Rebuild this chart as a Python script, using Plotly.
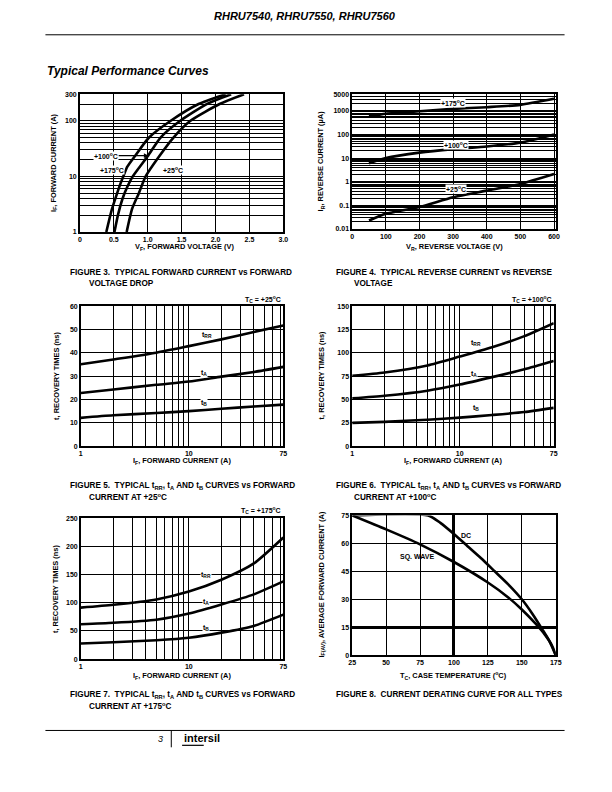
import math
import plotly.graph_objects as go

# Page is 612x792; the browser adds an 8px body margin, so the figure is 596x776
W, H = 612, 792
M = 8
FW, FH = W - 2 * M, H - 2 * M
FONT = "Liberation Sans, Arial, sans-serif"

# ---------------- Figure 3 data: forward current vs forward voltage ----------------
f3_v_175 = [0.39, 0.47, 0.55, 0.60, 0.64, 0.70, 0.81, 1.02, 1.34, 1.75, 2.15]
f3_i_175 = [1, 2.5, 5, 7.5, 10, 15, 23, 50, 100, 200, 300]
f3_v_100 = [0.51, 0.565, 0.63, 0.70, 0.78, 1.00, 1.19, 1.48, 1.87, 2.23]
f3_i_100 = [1, 2.1, 4, 6.5, 10, 23, 50, 100, 200, 300]
f3_v_25 = [0.69, 0.77, 0.87, 0.97, 1.17, 1.38, 1.63, 2.06, 2.42]
f3_i_25 = [1, 2.6, 5, 10, 23, 50, 100, 200, 300]
f3_xticks = [0, 0.5, 1.0, 1.5, 2.0, 2.5, 3.0]
f3_xticktext = ["0", "0.5", "1.0", "1.5", "2.0", "2.5", "3.0"]
f3_yticks = [1, 10, 100, 300]
f3_yticktext = ["1", "10", "100", "300"]
f3_yminor = [2, 3, 4, 5, 6, 7, 8, 9, 20, 30, 40, 50, 60, 70, 80, 90, 200]

# ---------------- Figure 4 data: reverse current vs reverse voltage ----------------
f4_vr = [50, 100, 200, 300, 400, 500, 600]
f4_ir_175 = [580, 750, 950, 1200, 1420, 1780, 3200]
f4_ir_100 = [6, 10, 17, 24, 31, 45, 100]
f4_ir_25 = [0.023, 0.044, 0.085, 0.22, 0.42, 0.8, 2.1]
f4_xticks = [0, 100, 200, 300, 400, 500, 600]
f4_yticks = [0.01, 0.1, 1, 10, 100, 1000, 5000]
f4_yticktext = ["0.01", "0.1", "1", "10", "100", "1000", "5000"]
f4_yminor = [m * 10 ** e for e in range(-2, 4) for m in range(2, 10) if m * 10 ** e < 5000]

# ---------------- Figures 5-7: recovery times vs forward current ----------------
rec_if = [1, 2, 5, 10, 20, 40, 75]
f5_trr = [35.1, 37.2, 40.1, 42.9, 45.8, 49.0, 51.8]
f5_ta = [22.8, 24.3, 26.3, 27.7, 29.8, 31.8, 34.0]
f5_tb = [12.1, 13.2, 14.2, 15.0, 16.0, 17.0, 17.8]
f6_trr = [75.4, 79.0, 86.5, 96.0, 106.0, 118.0, 132.0]
f6_ta = [51.2, 54.0, 59.4, 66.0, 74.0, 82.5, 91.4]
f6_tb = [24.9, 26.0, 28.3, 30.5, 33.3, 36.5, 41.0]
f7_trr = [91.4, 96.5, 106.0, 120.0, 141.0, 170.0, 216.0]
f7_ta = [62.0, 64.5, 70.0, 81.0, 97.0, 115.0, 138.0]
f7_tb = [27.7, 30.0, 33.5, 38.0, 47.0, 59.0, 79.0]
rec_xticks = [1, 10, 75]
rec_xticktext = ["1", "10", "75"]
rec_xminor = [2, 3, 4, 5, 6, 7, 8, 9, 20, 30, 40, 50, 60, 70]

# ---------------- Figure 8: current derating ----------------
f8_t_dc = [25, 81, 90, 100, 110, 120, 130, 140, 150, 158, 165, 170, 175]
f8_i_dc = [75, 75, 71, 65, 58.5, 52, 45, 38, 30, 22, 14, 8, 0]
f8_t_sq = [25, 50, 75, 100, 125, 140, 150, 160, 167, 172, 175]
f8_i_sq = [75, 67.5, 59.5, 50, 39, 31, 24.5, 17, 11, 5.5, 0]
f8_xticks = [25, 50, 75, 100, 125, 150, 175]
f8_yticks = [0, 15, 30, 45, 60, 75]


def PX(x):
    return (x - M) / FW


def PY(y):
    return 1 - (y - M) / FH


def dom_x(a, b):
    return [PX(a), PX(b)]


def dom_y(top, bottom):
    return [PY(bottom), PY(top)]


def base_axis(**kw):
    d = dict(showline=True, linecolor="black", linewidth=1.5, mirror=True,
             showgrid=True, gridcolor="black", gridwidth=1, ticks="", ticklen=0,
             zeroline=False, fixedrange=True,
             tickfont=dict(family=FONT, size=7, color="black", weight="bold"))
    d.update(kw)
    return d


fig = go.Figure()
LW = 2.6
curve = dict(mode="lines", line=dict(color="black", width=LW, shape="spline", smoothing=0.6),
             showlegend=False, hoverinfo="skip")

for v, i in [(f3_v_175, f3_i_175), (f3_v_100, f3_i_100), (f3_v_25, f3_i_25)]:
    fig.add_trace(go.Scatter(x=v, y=i, xaxis="x", yaxis="y", **curve))
for ir in [f4_ir_175, f4_ir_100, f4_ir_25]:
    fig.add_trace(go.Scatter(x=f4_vr, y=ir, xaxis="x2", yaxis="y2", **curve))
for ax, series in [("3", [f5_trr, f5_ta, f5_tb]), ("4", [f6_trr, f6_ta, f6_tb]), ("5", [f7_trr, f7_ta, f7_tb])]:
    for s in series:
        fig.add_trace(go.Scatter(x=rec_if, y=s, xaxis="x" + ax, yaxis="y" + ax, **curve))
fig.add_trace(go.Scatter(x=f8_t_dc, y=f8_i_dc, xaxis="x6", yaxis="y6", **curve))
fig.add_trace(go.Scatter(x=f8_t_sq, y=f8_i_sq, xaxis="x6", yaxis="y6", **curve))


def minor_grid(vals, w=1):
    return dict(tickvals=vals, showgrid=True, gridcolor="black", gridwidth=w, ticks="")


fig.update_layout(
    width=FW, height=FH, margin=dict(l=0, r=0, t=0, b=0),
    paper_bgcolor="white", plot_bgcolor="white", showlegend=False,
    font=dict(family=FONT, color="black"),
    xaxis=base_axis(domain=dom_x(77, 284), range=[0, 3], tickvals=f3_xticks, ticktext=f3_xticktext, anchor="y"),
    yaxis=base_axis(domain=dom_y(91, 230), type="log", range=[0, math.log10(300)],
                    tickvals=f3_yticks, ticktext=f3_yticktext, minor=minor_grid(f3_yminor), anchor="x"),
    xaxis2=base_axis(domain=dom_x(354, 561), range=[0, 605], tickvals=f4_xticks, anchor="y2"),
    yaxis2=base_axis(domain=dom_y(91, 227), type="log", range=[-2, math.log10(5000)], gridwidth=1.4,
                     tickvals=f4_yticks, ticktext=f4_yticktext, minor=minor_grid(f4_yminor, 1.2), anchor="x2"),
    xaxis3=base_axis(domain=dom_x(78, 284), type="log", range=[0, math.log10(75)],
                     tickvals=rec_xticks, ticktext=rec_xticktext, minor=minor_grid(rec_xminor), anchor="y3"),
    yaxis3=base_axis(domain=dom_y(305, 446), range=[0, 60], dtick=10, anchor="x3"),
    xaxis4=base_axis(domain=dom_x(354, 559), type="log", range=[0, math.log10(75)],
                     tickvals=rec_xticks, ticktext=rec_xticktext, minor=minor_grid(rec_xminor), anchor="y4"),
    yaxis4=base_axis(domain=dom_y(305, 446), range=[0, 150], dtick=25, anchor="x4"),
    xaxis5=base_axis(domain=dom_x(78, 284), type="log", range=[0, math.log10(75)],
                     tickvals=rec_xticks, ticktext=rec_xticktext, minor=minor_grid(rec_xminor), anchor="y5"),
    yaxis5=base_axis(domain=dom_y(519, 661), range=[0, 250], dtick=50, anchor="x5"),
    xaxis6=base_axis(domain=dom_x(354, 561), range=[25, 175], tickvals=f8_xticks,
                     minor=minor_grid([100], 3), anchor="y6"),
    yaxis6=base_axis(domain=dom_y(516, 657), range=[0, 75], tickvals=f8_yticks,
                     minor=minor_grid([15], 3), anchor="x6"),
)

anns = []


def ann(text, x, y, size=7, xanchor="center", yanchor="middle", bold=True, italic=False,
        angle=0, bg=None):
    f = dict(family=FONT, size=size, color="black")
    if bold:
        f["weight"] = "bold"
    if italic:
        f["style"] = "italic"
    d = dict(text=text, x=PX(x), y=PY(y), xref="paper", yref="paper", showarrow=False,
             xanchor=xanchor, yanchor=yanchor, font=f, textangle=angle)
    if bg:
        d.update(bgcolor=bg, borderpad=0)
    anns.append(d)


# Header
ann("RHRU7540, RHRU7550, RHRU7560", 306, 12, size=11, italic=True)
ann("Typical Performance Curves", 42, 68, size=12, xanchor="left", italic=True)

# Axis titles
AT = 7.4
ann("I<sub>F</sub>, FORWARD CURRENT (A)", 50, 160, size=AT, angle=-90)
ann("V<sub>F</sub>, FORWARD VOLTAGE (V)", 183, 245, size=AT)
ann("I<sub>R</sub>, REVERSE CURRENT (µA)", 322, 158, size=AT, angle=-90)
ann("V<sub>R</sub>, REVERSE VOLTAGE (V)", 458, 245, size=AT)
ann("t, RECOVERY TIMES (ns)", 53, 375, size=AT, angle=-90)
ann("I<sub>F</sub>, FORWARD CURRENT (A)", 181, 461, size=AT)
ann("t, RECOVERY TIMES (ns)", 323, 375, size=AT, angle=-90)
ann("I<sub>F</sub>, FORWARD CURRENT (A)", 457, 461, size=AT)
ann("t, RECOVERY TIMES (ns)", 53, 590, size=AT, angle=-90)
ann("I<sub>F</sub>, FORWARD CURRENT (A)", 181, 678, size=AT)
ann("I<sub>F(AV)</sub>, AVERAGE FORWARD CURRENT (A)", 323, 586, size=AT, angle=-90)
ann("T<sub>C</sub>, CASE TEMPERATURE (<sup>o</sup>C)", 457, 678, size=AT)

# Conditions
ann("T<sub>C</sub> = +25<sup>o</sup>C", 284, 298, xanchor="right")
ann("T<sub>C</sub> = +100<sup>o</sup>C", 559, 298, xanchor="right")
ann("T<sub>C</sub> = +175<sup>o</sup>C", 284, 511, xanchor="right")

# Curve labels
ann("+175<sup>o</sup>C", 110, 167, bg="white")
ann("+25<sup>o</sup>C", 172, 167, bg="white")
anns.append(dict(text="+100<sup>o</sup>C", x=PX(147), y=PY(153), xref="paper", yref="paper",
                 showarrow=True, ax=-30, ay=0, arrowhead=2, arrowsize=0.8, arrowwidth=1.2,
                 arrowcolor="black", xanchor="right", bgcolor="white", borderpad=0,
                 font=dict(family=FONT, size=7, color="black", weight="bold")))
ann("+175<sup>o</sup>C", 457, 100, bg="white")
ann("+100<sup>o</sup>C", 460, 142, bg="white")
ann("+25<sup>o</sup>C", 460, 187, bg="white")

ann("t<sub>RR</sub>", 206, 334, bg="white")
ann("t<sub>A</sub>", 203, 372, bg="white")
ann("t<sub>B</sub>", 203, 403, bg="white")
ann("t<sub>RR</sub>", 480, 342, bg="white")
ann("t<sub>A</sub>", 478, 373, bg="white")
ann("t<sub>B</sub>", 480, 408, bg="white")
ann("t<sub>RR</sub>", 205, 576, bg="white")
ann("t<sub>A</sub>", 205, 603, bg="white")
ann("t<sub>B</sub>", 205, 630, bg="white")
ann("DC", 470, 536)
ann("SQ. WAVE", 420, 558)

# Captions
CAP = 8.2
ann("FIGURE 3.  TYPICAL FORWARD CURRENT vs FORWARD", 65, 271, size=CAP, xanchor="left")
ann("VOLTAGE DROP", 84, 282, size=CAP, xanchor="left")
ann("FIGURE 4.  TYPICAL REVERSE CURRENT vs REVERSE", 335, 271, size=CAP, xanchor="left")
ann("VOLTAGE", 354, 282, size=CAP, xanchor="left")
ann("FIGURE 5.  TYPICAL t<sub>RR</sub>, t<sub>A</sub> AND t<sub>B</sub> CURVES vs FORWARD", 65, 486, size=CAP, xanchor="left")
ann("CURRENT AT +25<sup>o</sup>C", 84, 497, size=CAP, xanchor="left")
ann("FIGURE 6.  TYPICAL t<sub>RR</sub>, t<sub>A</sub> AND t<sub>B</sub> CURVES vs FORWARD", 335, 486, size=CAP, xanchor="left")
ann("CURRENT AT +100<sup>o</sup>C", 354, 497, size=CAP, xanchor="left")
ann("FIGURE 7.  TYPICAL t<sub>RR</sub>, t<sub>A</sub> AND t<sub>B</sub> CURVES vs FORWARD", 65, 697, size=CAP, xanchor="left")
ann("CURRENT AT +175<sup>o</sup>C", 84, 708, size=CAP, xanchor="left")
ann("FIGURE 8.  CURRENT DERATING CURVE FOR ALL TYPES", 335, 697, size=CAP, xanchor="left")

# Footer
ann("3", 164, 742, size=9, bold=False, italic=True, xanchor="right")
ann("intersil", 181, 741, size=11, xanchor="left")


def pline(x0, y0, x1, y1, w=1):
    return dict(type="line", xref="paper", yref="paper", x0=PX(x0), x1=PX(x1), y0=PY(y0), y1=PY(y1),
                line=dict(color="black", width=w))


shapes = [
    pline(42, 31, 570, 31),
    pline(42, 733, 570, 733),
    pline(170, 733, 170, 750),
    pline(181, 748, 203, 748, 1.2),
]

fig.update_layout(annotations=anns, shapes=shapes)
fig.write_html("out.html")
